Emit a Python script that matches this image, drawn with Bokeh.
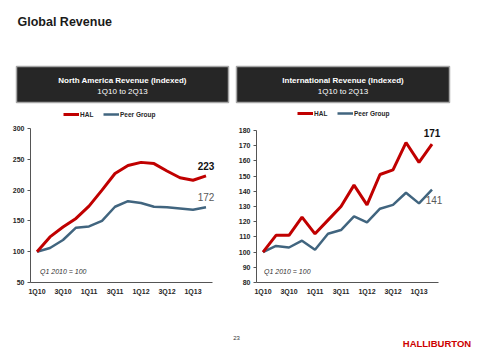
from bokeh.plotting import figure
from bokeh.layouts import column, row
from bokeh.models import Range1d, FixedTicker, Legend, LegendItem
from bokeh.core.properties import value
from bokeh.embed import file_html
from bokeh.resources import INLINE

# ---------------- data ----------------
quarters = ["1Q10", "2Q10", "3Q10", "4Q10", "1Q11", "2Q11", "3Q11", "4Q11",
            "1Q12", "2Q12", "3Q12", "4Q12", "1Q13", "2Q13"]
na_hal = [100, 124, 140, 154, 174, 200, 227, 240, 245, 243, 231, 220, 216, 223]
na_peer = [100, 106, 119, 139, 141, 150, 173, 182, 179, 173, 172, 170, 168, 172]
intl_hal = [100, 111, 111, 123, 112, 121, 130, 144, 131, 151, 154, 172, 159, 171]
intl_peer = [100, 104, 103, 107.5, 101.5, 112, 114.5, 123.5, 119.5, 128.5, 131, 139, 132, 141]
na_yticks = [50, 100, 150, 200, 250, 300]
intl_yticks = [80, 90, 100, 110, 120, 130, 140, 150, 160, 170, 180]
series_names = ["HAL", "Peer Group"]
page_title = "Global Revenue"
na_title = ["North America Revenue (Indexed)", "1Q10 to 2Q13"]
intl_title = ["International Revenue (Indexed)", "1Q10 to 2Q13"]
base_note = "Q1 2010 = 100"
page_number = "23"
brand = "HALLIBURTON"

FONT = "Liberation Sans"
RED = "#c00000"
BLUE = "#41657f"
TXT = "#262626"
AX = "#555555"

# ---------------- header ----------------
hdr = figure(width=480, height=108, x_range=Range1d(0, 480), y_range=Range1d(108, 0),
             output_backend="svg", toolbar_location=None, min_border=0,
             x_axis_location=None, y_axis_location=None)
hdr.grid.visible = False
hdr.outline_line_color = None
hdr.text(x=[17], y=[21], text=[page_title], text_font=value(FONT), text_font_size="12.5px",
         text_font_style="bold", text_color="#1a1a1a", text_baseline="middle", text_align="left")
hdr.quad(left=[16, 236], right=[228, 449], top=[66, 66], bottom=[102, 102],
         fill_color="#262626", line_color="#a6a6a6", line_width=1.5)
hdr.text(x=[122, 342.5], y=[80, 80], text=[na_title[0], intl_title[0]], text_font=value(FONT),
         text_font_size="8px", text_font_style="bold", text_color="white",
         text_baseline="middle", text_align="center")
hdr.text(x=[122, 342.5], y=[90.5, 90.5], text=[na_title[1], intl_title[1]], text_font=value(FONT),
         text_font_size="8px", text_color="white", text_baseline="middle", text_align="center")


# ---------------- charts ----------------
def make_chart(width, border_left, frame_bottom, y0, y0_px, y1, y1_px, yticks,
               hal, peer, leg_x, note_xy, hal_off, peer_off):
    top_px = 108
    ppu = (y0_px - y1_px) / (y1 - y0)
    start = y0 - (frame_bottom - y0_px) / ppu
    end = y1 + (y1_px - top_px) / ppu
    step_px = 13.0
    frame_w = width - border_left - 2
    x_end = -0.5 + frame_w / step_px
    n = len(quarters)
    p = figure(width=width, height=200, x_range=Range1d(-0.5, x_end), y_range=Range1d(start, end),
               output_backend="svg", toolbar_location=None,
               min_border_left=border_left, min_border_right=width - border_left - frame_w,
               min_border_top=0, min_border_bottom=308 - frame_bottom)
    p.grid.visible = False
    p.outline_line_color = None
    p.background_fill_color = "white"

    idx = list(range(n))
    r_peer = p.line(idx, peer, line_color=BLUE, line_width=2.5)
    r_hal = p.line(idx, hal, line_color=RED, line_width=3)

    # axes
    xa = p.xaxis[0]
    xa.ticker = FixedTicker(ticks=idx[::2])
    xa.major_label_overrides = {i: quarters[i] for i in idx[::2]}
    xa.bounds = (-0.5, n - 0.5)
    xa.major_tick_out = 0
    xa.major_tick_in = 0
    xa.minor_tick_out = 0
    xa.minor_tick_in = 0
    xa.axis_line_color = AX
    xa.major_label_standoff = 5
    ya = p.yaxis[0]
    ya.ticker = FixedTicker(ticks=yticks)
    ya.bounds = (yticks[0], yticks[-1])
    ya.major_tick_out = 3
    ya.major_tick_in = 0
    ya.minor_tick_out = 0
    ya.minor_tick_in = 0
    ya.axis_line_color = AX
    ya.major_tick_line_color = AX
    ya.major_label_standoff = 3
    for a in (xa, ya):
        a.major_label_text_font = FONT
        a.major_label_text_font_size = "7px"
        a.major_label_text_font_style = "bold"
        a.major_label_text_color = TXT

    # end labels
    p.text(x=[idx[-1]], y=[hal[-1]], text=[f"{hal[-1]:g}"], text_font=value(FONT),
           text_font_size="10px", text_font_style="bold", text_color="#111111",
           text_align="center", text_baseline="middle", x_offset=hal_off[0], y_offset=hal_off[1])
    p.text(x=[idx[-1]], y=[peer[-1]], text=[f"{peer[-1]:g}"], text_font=value(FONT),
           text_font_size="10px", text_color="#595959",
           text_align="center", text_baseline="middle", x_offset=peer_off[0], y_offset=peer_off[1])
    # note
    p.text(x=[note_xy[0]], y=[note_xy[1]], text=[base_note], text_font=value(FONT),
           text_font_size="7px", text_font_style="italic", text_color="#333333",
           text_align="left", text_baseline="middle")

    frame_h = frame_bottom - top_px
    legend = Legend(items=[LegendItem(label=series_names[0], renderers=[r_hal]),
                           LegendItem(label=series_names[1], renderers=[r_peer])],
                    orientation="horizontal", location=(leg_x, frame_h - 2 - 8),
                    glyph_width=16, glyph_height=8, label_height=8, label_standoff=1,
                    spacing=3, padding=0, margin=0, border_line_color=None,
                    background_fill_alpha=0, label_text_font=FONT,
                    label_text_font_size="6.5px", label_text_font_style="bold",
                    label_text_color=TXT)
    p.add_layout(legend)
    return p


left = make_chart(232, 30, 282, 50, 282, 300, 128, na_yticks, na_hal, na_peer,
                  33, (0.23, 68), (0, -10), (0, -10))
right = make_chart(248, 24, 283, 80, 283, 180, 130, intl_yticks, intl_hal, intl_peer,
                   41, (0.08, 87.2), (0, -11), (2, 10))

# ---------------- footer ----------------
ftr = figure(width=480, height=43, x_range=Range1d(0, 480), y_range=Range1d(43, 0),
             output_backend="svg", toolbar_location=None, min_border=0,
             x_axis_location=None, y_axis_location=None)
ftr.grid.visible = False
ftr.outline_line_color = None
ftr.text(x=[236], y=[29], text=[page_number], text_font=value(FONT), text_font_size="6px",
         text_color="#333333", text_align="center", text_baseline="middle")
ftr.text(x=[436.5], y=[35], text=[brand], text_font=value(FONT), text_font_size="9.5px",
         text_font_style="bold", text_color="#cc0000", text_align="center", text_baseline="middle")

layout = column(hdr, row(left, right, spacing=0), ftr, spacing=0)
open("out.html", "w").write(file_html(layout, INLINE))
